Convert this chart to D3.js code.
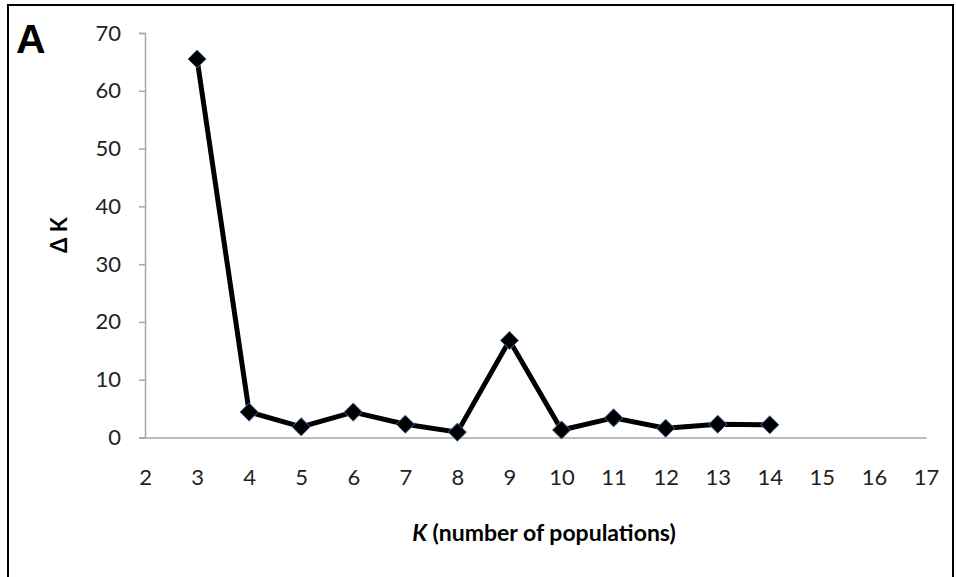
<!DOCTYPE html>
<html><head><meta charset="utf-8">
<script src="https://cdn.jsdelivr.net/npm/d3@7"></script>
<style>body{margin:0;background:#fff}svg{display:block}</style>
</head><body>
<svg id="c" width="956" height="577"></svg>
<script>
const categories = [2,3,4,5,6,7,8,9,10,11,12,13,14,15,16,17];
const kValues = [3,4,5,6,7,8,9,10,11,12,13,14];
const deltaK = [65.5,4.4,1.85,4.4,2.3,0.93,16.8,1.3,3.4,1.6,2.3,2.2];
const yTicks = [0,10,20,30,40,50,60,70];

const svg = d3.select("#c");
const font = "Lato, 'Open Sans', sans-serif";

svg.append("rect").attr("x",8).attr("y",5).attr("width",945).attr("height",600)
  .attr("fill","none").attr("stroke","#000").attr("stroke-width",2);

svg.append("text").attr("x",16).attr("y",53).text("A")
  .attr("font-family","'Liberation Sans', Arial, sans-serif").attr("font-weight","bold").attr("font-size",41);

const x = d3.scalePoint().domain(categories).range([145,926]);
const y = d3.scaleLinear().domain([0,70]).range([437.5,33]);

const gy = svg.append("g").attr("transform","translate(145,0)")
  .call(d3.axisLeft(y).tickValues(yTicks).tickSize(6).tickPadding(18));
gy.select(".domain").attr("stroke","#a6a6a6").attr("stroke-width",1.5);
gy.selectAll(".tick line").attr("stroke","#a6a6a6").attr("stroke-width",1.5);
gy.selectAll("text").attr("font-family",font).attr("font-size",22).attr("fill","#222");

const gx = svg.append("g").attr("transform","translate(0,437.5)")
  .call(d3.axisBottom(x).tickSize(0).tickPadding(32));
gx.select(".domain").attr("stroke","#a6a6a6").attr("stroke-width",1.5);
gx.selectAll("text").attr("font-family",font).attr("font-size",22).attr("fill","#222");

const pts = kValues.map((k,i)=>({k, v: deltaK[i]}));
svg.append("path").datum(pts)
  .attr("d", d3.line().x(d=>x(d.k)).y(d=>y(d.v)))
  .attr("fill","none").attr("stroke","#000").attr("stroke-width",5).attr("stroke-linejoin","round");

svg.selectAll(".m").data(pts).join("path")
  .attr("transform", d=>`translate(${x(d.k)},${y(d.v)})`)
  .attr("d", d3.symbol(d3.symbolDiamond2, 210)())
  .attr("fill","#000").attr("stroke","#4a6fa5").attr("stroke-width",1);

svg.append("text").attr("transform","translate(67,235) rotate(-90)")
  .attr("text-anchor","middle").attr("font-family",font).attr("font-weight","bold").attr("font-size",22)
  .text("Δ K");

const xt = svg.append("text").attr("x",544).attr("y",541).attr("text-anchor","middle")
  .attr("font-family",font).attr("font-weight","bold").attr("font-size",23);
xt.append("tspan").attr("font-style","italic").text("K");
xt.append("tspan").text(" (number of populations)");
</script>
</body></html>
